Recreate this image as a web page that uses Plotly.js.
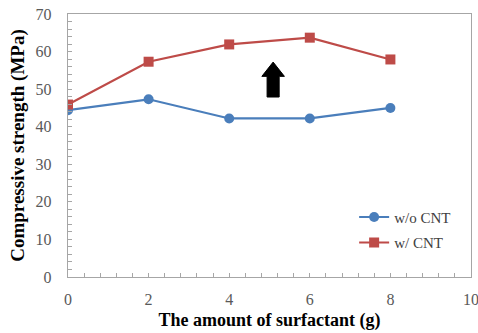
<!DOCTYPE html>
<html><head><meta charset="utf-8">
<script src="https://cdn.plot.ly/plotly-3.0.1.min.js"></script>
<style>html,body{margin:0;padding:0;background:#fff}#c{width:478px;height:333px}</style>
</head><body><div id="c"></div>
<script>
const surfactant = [0, 2, 4, 6, 8];
const woCNT = [44.4, 47.3, 42.2, 42.2, 45.0];
const wCNT = [45.9, 57.3, 61.9, 63.7, 57.9];
const seriesNames = ['w/o CNT', 'w/ CNT'];
const xTicks = [0, 2, 4, 6, 8, 10];
const yTicks = [0, 10, 20, 30, 40, 50, 60, 70];
// arrow annotation: x position, y bottom, y top (data units)
const arrowX = 5.09, arrowBottom = 47.9, arrowTop = 57.2;

const hw = 0.28, sw = 0.15, headH = 3.8;
const arrowPath = `M ${arrowX - sw} ${arrowBottom} L ${arrowX - sw} ${arrowTop - headH} L ${arrowX - hw} ${arrowTop - headH} L ${arrowX} ${arrowTop} L ${arrowX + hw} ${arrowTop - headH} L ${arrowX + sw} ${arrowTop - headH} L ${arrowX + sw} ${arrowBottom} Z`;

const data = [
  {x: surfactant, y: woCNT, name: seriesNames[0], legendgroup: 'a', mode: 'lines+markers',
   line: {color: '#4a7ebb', width: 2.2}, marker: {symbol: 'circle', size: 10, color: '#4a7ebb'}},
  {x: surfactant, y: wCNT, name: seriesNames[1], legendgroup: 'b', mode: 'lines+markers',
   line: {color: '#be4b48', width: 2.2}, marker: {symbol: 'square', size: 10, color: '#be4b48'}}
];
const serif = 'Liberation Serif, Times New Roman, serif';
const tickFont = {family: serif, size: 16, color: '#595959'};
const layout = {
  width: 478, height: 333,
  margin: {l: 68, r: 7, t: 14, b: 56},
  paper_bgcolor: '#fff', plot_bgcolor: '#fff',
  showlegend: true,
  legend: {x: 0.71, y: 0.29, xanchor: 'left', yanchor: 'top', bgcolor: 'rgba(0,0,0,0)',
    font: {family: serif, size: 15, color: '#404040'}, tracegroupgap: 3, itemwidth: 30, traceorder: 'grouped'},
  xaxis: {range: [0, 10], tickvals: xTicks, showgrid: false, zeroline: false,
    showline: true, linecolor: '#a6a6a6', linewidth: 1.3, mirror: true,
    ticks: 'inside', ticklen: 4, tickcolor: '#a6a6a6', ticklabelstandoff: 7, ticklabeloverflow: 'allow',
    minor: {dtick: 0.4, ticks: 'inside', ticklen: 4, tickcolor: '#a6a6a6'},
    tickfont: tickFont,
    title: {text: '<b>The amount of surfactant (g)</b>', font: {family: serif, size: 18, color: '#000'}, standoff: 7}},
  yaxis: {range: [0, 70], tickvals: yTicks, showgrid: false, zeroline: false,
    showline: true, linecolor: '#a6a6a6', linewidth: 1.3, mirror: true,
    ticks: 'inside', ticklen: 4, tickcolor: '#a6a6a6', ticklabelstandoff: 12,
    minor: {dtick: 2, ticks: 'inside', ticklen: 4, tickcolor: '#a6a6a6'},
    tickfont: tickFont,
    title: {text: '<b>Compressive strength (MPa)</b>', font: {family: serif, size: 19, color: '#000'}, standoff: 6}},
  shapes: [{type: 'path', xref: 'x', yref: 'y', path: arrowPath, fillcolor: '#000', line: {color: '#000', width: 1}}]
};
Plotly.newPlot('c', data, layout, {staticPlot: true});
</script></body></html>
